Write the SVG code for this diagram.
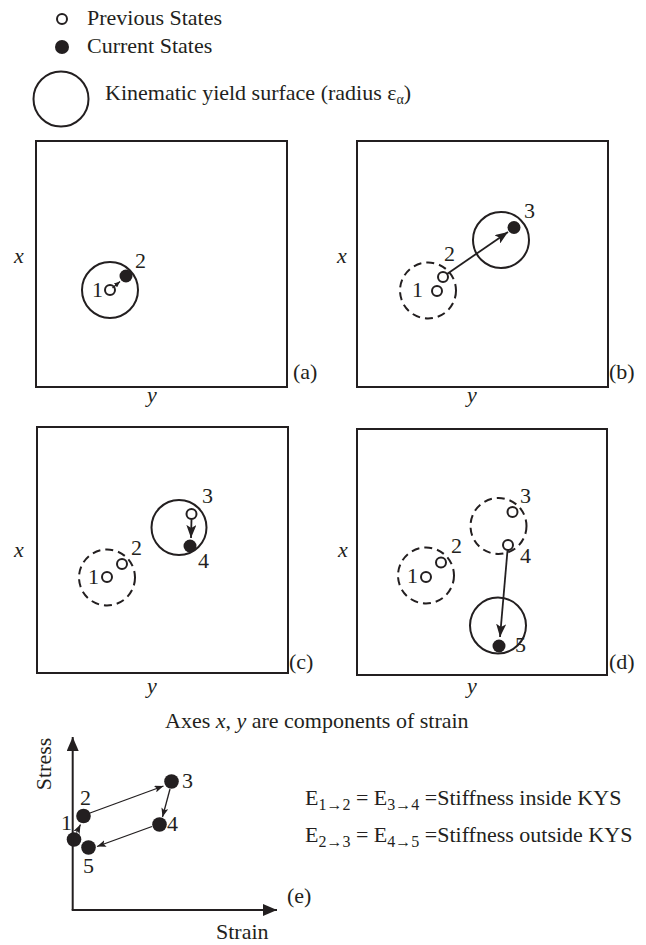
<svg xmlns="http://www.w3.org/2000/svg" width="646" height="945" viewBox="0 0 646 945">
<style>
text{font-family:"Liberation Serif","Times New Roman",serif;font-size:22px;fill:#231f20}
.it{font-style:italic}
.box{fill:none;stroke:#231f20;stroke-width:2}
.kys{fill:none;stroke:#231f20;stroke-width:2}
.dash{fill:none;stroke:#231f20;stroke-width:2;stroke-dasharray:8 5}
.open{fill:#fff;stroke:#231f20;stroke-width:2}
.full{fill:#231f20}
.arr{stroke:#231f20;stroke-width:1.8;fill:none}
.arr2{stroke:#231f20;stroke-width:1.3;fill:none}
.axis{stroke:#231f20;stroke-width:2;fill:none}
.sub{font-size:16px}
</style>
<defs>
<marker id="ah" markerUnits="userSpaceOnUse" markerWidth="14" markerHeight="10" refX="13" refY="5" orient="auto"><path d="M0,0 L13,5 L0,10 L3,5 Z" fill="#231f20"/></marker>
<marker id="ahs" markerUnits="userSpaceOnUse" markerWidth="9" markerHeight="7" refX="9" refY="3.5" orient="auto"><path d="M0,0 L9,3.5 L0,7 L2,3.5 Z" fill="#231f20"/></marker>
<marker id="aht" markerUnits="userSpaceOnUse" markerWidth="6" markerHeight="5" refX="6" refY="2.5" orient="auto"><path d="M0,0 L6,2.5 L0,5 Z" fill="#231f20"/></marker>
<marker id="ahx" markerUnits="userSpaceOnUse" markerWidth="14" markerHeight="12" refX="14" refY="6" orient="auto"><path d="M0,0 L14,6 L0,12 Z" fill="#231f20"/></marker>
</defs>

<g id="legend">
<circle class="open" cx="62" cy="19" r="5"/>
<text x="87" y="25">Previous States</text>
<circle class="full" cx="62" cy="47" r="7"/>
<text x="87" y="53">Current States</text>
<circle class="kys" cx="61" cy="99" r="27.5"/>
<text x="105" y="100">Kinematic yield surface (radius ε<tspan font-size="14" dy="4">α</tspan><tspan dy="-4">)</tspan></text>
</g>

<g id="panel-a">
<rect class="box" x="36" y="141" width="251" height="246"/>
<text class="it" x="14" y="263">x</text>
<text class="it" x="147" y="402">y</text>
<text x="293" y="379">(a)</text>
<circle class="kys" cx="110" cy="290" r="28"/>
<circle class="open" cx="110" cy="290" r="5"/>
<circle class="full" cx="126" cy="276" r="6.5"/>
<text x="92" y="297">1</text>
<text x="135" y="268">2</text>
</g>

<g id="panel-b">
<rect class="box" x="357" y="141" width="251" height="246"/>
<text class="it" x="337" y="263">x</text>
<text class="it" x="467" y="402">y</text>
<text x="609" y="379">(b)</text>
<circle class="dash" cx="428" cy="290.5" r="28"/>
<circle class="kys" cx="501" cy="240" r="28"/>
<circle class="open" cx="437" cy="291" r="5"/>
<circle class="open" cx="443" cy="277" r="5"/>
<circle class="full" cx="514" cy="227.5" r="6.5"/>
<text x="412" y="297">1</text>
<text x="444" y="261">2</text>
<text x="524" y="218">3</text>
</g>

<g id="panel-c">
<rect class="box" x="37" y="427" width="251" height="246"/>
<text class="it" x="14" y="557">x</text>
<text class="it" x="147" y="693">y</text>
<text x="289" y="669">(c)</text>
<circle class="dash" cx="107" cy="577.5" r="28"/>
<circle class="kys" cx="179" cy="527.5" r="27.5"/>
<circle class="open" cx="107" cy="577" r="5"/>
<circle class="open" cx="122" cy="564" r="5"/>
<circle class="open" cx="191.5" cy="514" r="5"/>
<circle class="full" cx="190" cy="546" r="6.5"/>
<text x="88" y="584">1</text>
<text x="131" y="555">2</text>
<text x="202" y="503">3</text>
<text x="198" y="568">4</text>
</g>

<g id="panel-d">
<rect class="box" x="357" y="429" width="250" height="246"/>
<text class="it" x="338" y="557">x</text>
<text class="it" x="467" y="693">y</text>
<text x="609" y="669">(d)</text>
<circle class="dash" cx="426" cy="575.5" r="28"/>
<circle class="dash" cx="498.5" cy="526" r="28"/>
<circle class="kys" cx="498" cy="625.5" r="28"/>
<circle class="open" cx="426" cy="577" r="5"/>
<circle class="open" cx="441" cy="562.5" r="5"/>
<circle class="open" cx="512.5" cy="512" r="5"/>
<circle class="open" cx="508" cy="545" r="5"/>
<circle class="full" cx="499" cy="646" r="6.5"/>
<text x="407" y="583">1</text>
<text x="451" y="553">2</text>
<text x="520" y="503">3</text>
<text x="520" y="563">4</text>
<text x="515" y="652">5</text>
</g>

<text id="caption" x="165" y="728">Axes <tspan class="it">x</tspan>, <tspan class="it">y</tspan> are components of strain</text>

<g id="panel-e">
<text transform="translate(51,764) rotate(-90)" text-anchor="middle">Stress</text>
<text x="216" y="939">Strain</text>
<text x="287" y="903">(e)</text>
<circle class="full" cx="74" cy="839.5" r="7.3"/>
<circle class="full" cx="83.5" cy="816" r="7.3"/>
<circle class="full" cx="171.5" cy="781.5" r="7.3"/>
<circle class="full" cx="159.5" cy="824.5" r="7.3"/>
<circle class="full" cx="88.5" cy="847.5" r="7.3"/>
<text x="61" y="830">1</text>
<text x="80" y="805">2</text>
<text x="182" y="788">3</text>
<text x="167" y="831">4</text>
<text x="83" y="873">5</text>
</g>

<g id="equations">
<text x="305" y="805">E<tspan class="sub" dy="5">1→2</tspan><tspan dy="-5"> = E</tspan><tspan class="sub" dy="5">3→4</tspan><tspan dy="-5"> =Stiffness inside KYS</tspan></text>
<text x="305" y="842">E<tspan class="sub" dy="5">2→3</tspan><tspan dy="-5"> = E</tspan><tspan class="sub" dy="5">4→5</tspan><tspan dy="-5"> =Stiffness outside KYS</tspan></text>
</g>

<g id="connectors">
<line class="arr2" x1="112.5" y1="288" x2="120" y2="281.5" marker-end="url(#aht)"/>
<line class="arr" x1="447" y1="274" x2="508" y2="232" marker-end="url(#ah)"/>
<line class="arr" x1="191.5" y1="519.5" x2="191" y2="538" marker-end="url(#ah)"/>
<line class="arr" x1="507.5" y1="550.5" x2="500" y2="637" marker-end="url(#ah)"/>
<line class="axis" x1="72.7" y1="910" x2="72.7" y2="737" marker-end="url(#ahx)"/>
<line class="axis" x1="71.7" y1="910" x2="277" y2="910" marker-end="url(#ahx)"/>
<line class="arr2" x1="76.5" y1="832.5" x2="80.5" y2="824.5" marker-end="url(#ahs)"/>
<line class="arr2" x1="90" y1="813" x2="163.5" y2="786" marker-end="url(#ahs)"/>
<line class="arr2" x1="170" y1="789" x2="162.5" y2="817" marker-end="url(#ahs)"/>
<line class="arr2" x1="152" y1="826.5" x2="97" y2="846.5" marker-end="url(#ahs)"/>
</g>
</svg>
